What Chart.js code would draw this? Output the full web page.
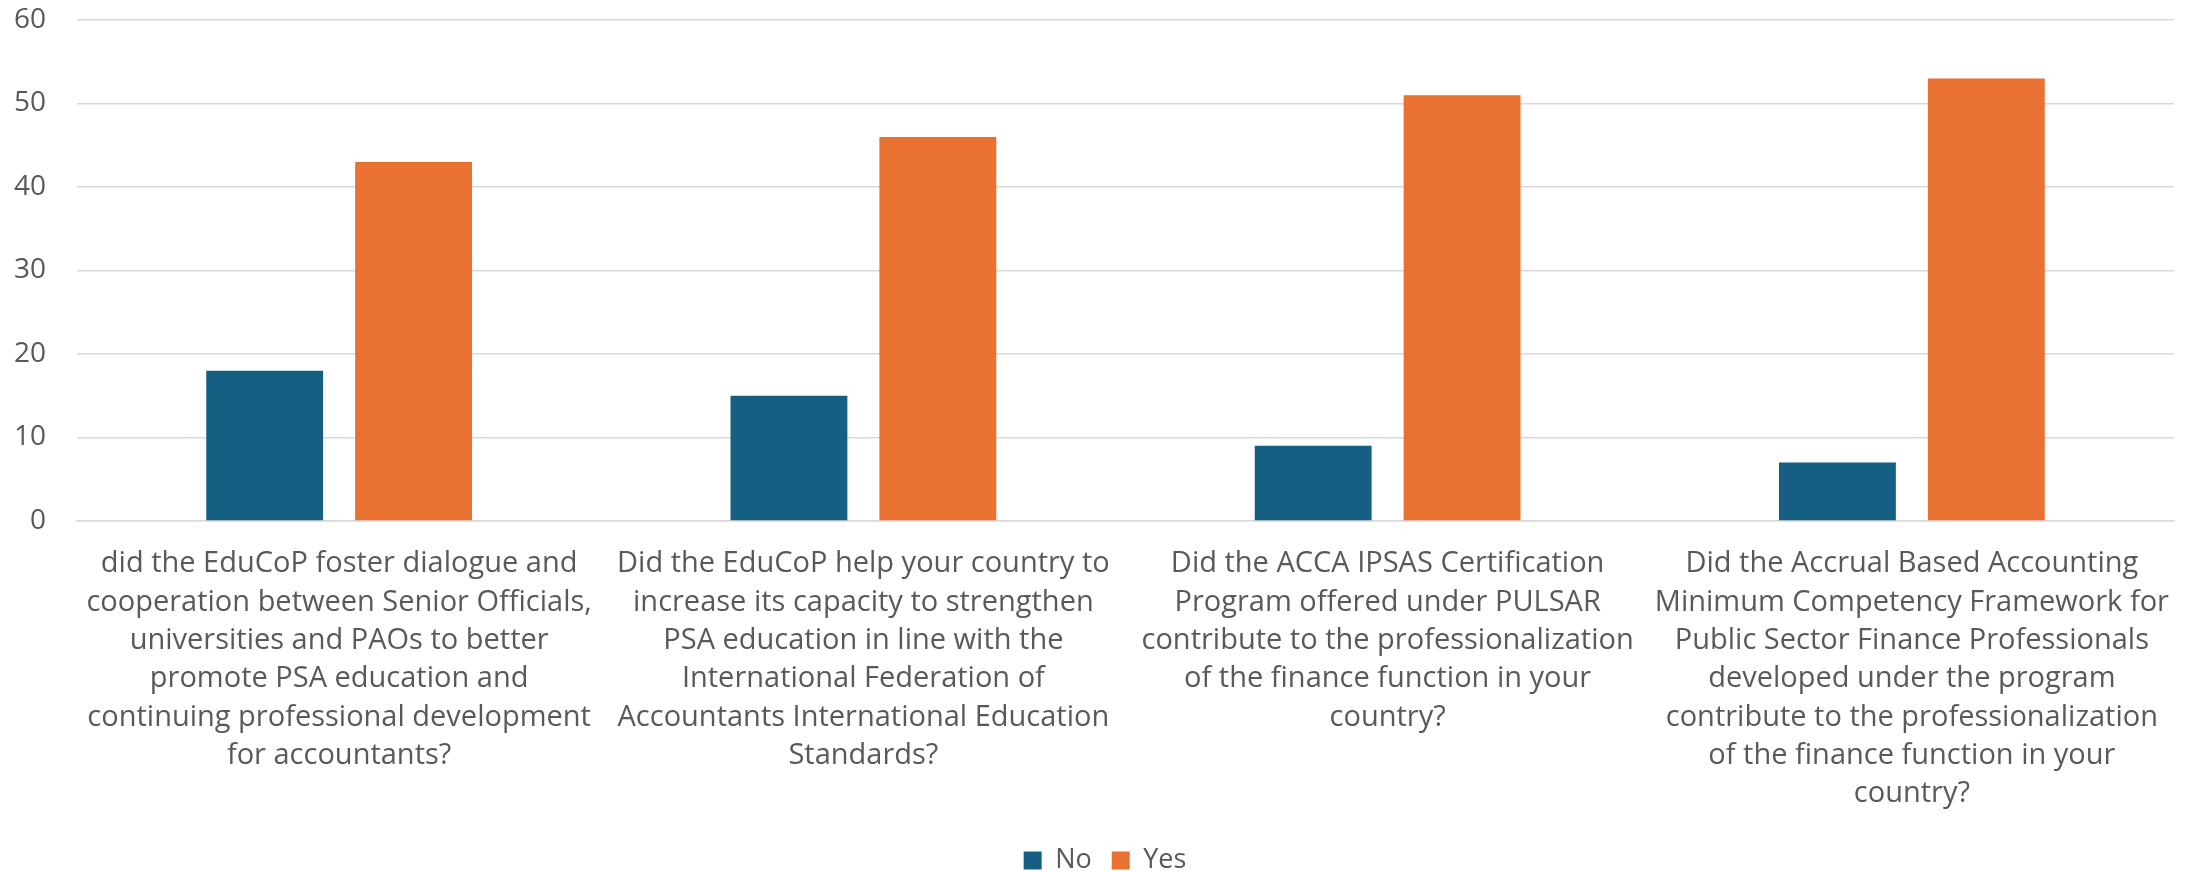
<!DOCTYPE html>
<html>
<head>
<meta charset="utf-8">
<script src="https://cdn.jsdelivr.net/npm/chart.js@4.4.1/dist/chart.umd.min.js"></script>
<style>
  html, body { margin: 0; padding: 0; background: #fff; }
  #wrap { width: 2201px; height: 872px; }
</style>
</head>
<body>
<div id="wrap"><canvas id="surveyChart"></canvas></div>
<script>
// question labels, already wrapped the way the original chart shows them
const questions = [
    ['did the EduCoP foster dialogue and', 'cooperation between Senior Officials,', 'universities and PAOs to better', 'promote PSA education and', 'continuing professional development', 'for accountants?'],
    ['Did the EduCoP help your country to', 'increase its capacity to strengthen', 'PSA education in line with the', 'International Federation of', 'Accountants International Education', 'Standards?'],
    ['Did the ACCA IPSAS Certification', 'Program offered under PULSAR', 'contribute to the professionalization', 'of the finance function in your', 'country?'],
    ['Did the Accrual Based Accounting', 'Minimum Competency Framework for', 'Public Sector Finance Professionals', 'developed under the program', 'contribute to the professionalization', 'of the finance function in your', 'country?']
];
const noCounts = [18, 15, 9, 7];
const yesCounts = [43, 46, 51, 53];
const yTicks = [0, 10, 20, 30, 40, 50, 60];

const textColor = '#595959';
const gridColor = '#d9d9d9';
const fontFamily = "'Open Sans', 'Liberation Sans', sans-serif";

// the legend keeps some empty space under its row, trim it so the row sits lower,
// and nudge the row to the right so it is centred like the original
const legendTrim = {
    id: 'legendTrim',
    beforeInit(chart) {
        const legend = chart.legend;
        if (!legend) return;
        const fit = legend.fit;
        legend.fit = function () {
            fit.call(this);
            this.height -= 12;
            if (this.lineWidths && this.lineWidths.length) {
                this.lineWidths[0] -= 36;
            }
        };
    }
};

const ctx = document.getElementById('surveyChart').getContext('2d');
let surveyChart = new Chart(ctx, {
    type: 'bar',
    data: {
        labels: questions,
        datasets: [
            {
                label: 'No',
                data: noCounts,
                backgroundColor: '#156082',
                categoryPercentage: 0.568,
                barPercentage: 0.785
            },
            {
                label: 'Yes',
                data: yesCounts,
                backgroundColor: '#E97132',
                categoryPercentage: 0.568,
                barPercentage: 0.785
            }
        ]
    },
    options: {
        responsive: true,
        maintainAspectRatio: false,
        animation: false,
        layout: { padding: { top: 20, right: 27, left: 0, bottom: 0 } },
        plugins: {
            legend: {
                position: 'bottom',
                labels: {
                    color: textColor,
                    font: { family: fontFamily, size: 27 },
                    boxWidth: 18,
                    boxHeight: 18,
                    padding: 20
                }
            },
            tooltip: { enabled: false }
        },
        scales: {
            x: {
                grid: { display: false },
                border: { color: gridColor, width: 1.5 },
                ticks: {
                    color: textColor,
                    font: { family: fontFamily, size: 29, lineHeight: 1.32 },
                    maxRotation: 0,
                    minRotation: 0,
                    autoSkip: false,
                    padding: 16
                },
                afterFit: function (scale) {
                    scale.height = 306;
                    scale.paddingLeft = 0;
                    scale.paddingRight = 0;
                }
            },
            y: {
                min: 0,
                max: 60,
                afterBuildTicks: function (scale) {
                    scale.ticks = yTicks.map(v => ({ value: v }));
                },
                grid: { color: gridColor, lineWidth: 1.5, drawTicks: false },
                border: { display: false },
                ticks: {
                    color: textColor,
                    font: { family: fontFamily, size: 28 },
                    padding: 31
                },
                afterFit: function (scale) {
                    scale.width = 77;
                    scale.paddingTop = 0;
                    scale.paddingBottom = 0;
                }
            }
        }
    },
    plugins: [legendTrim]
});
</script>
</body>
</html>
